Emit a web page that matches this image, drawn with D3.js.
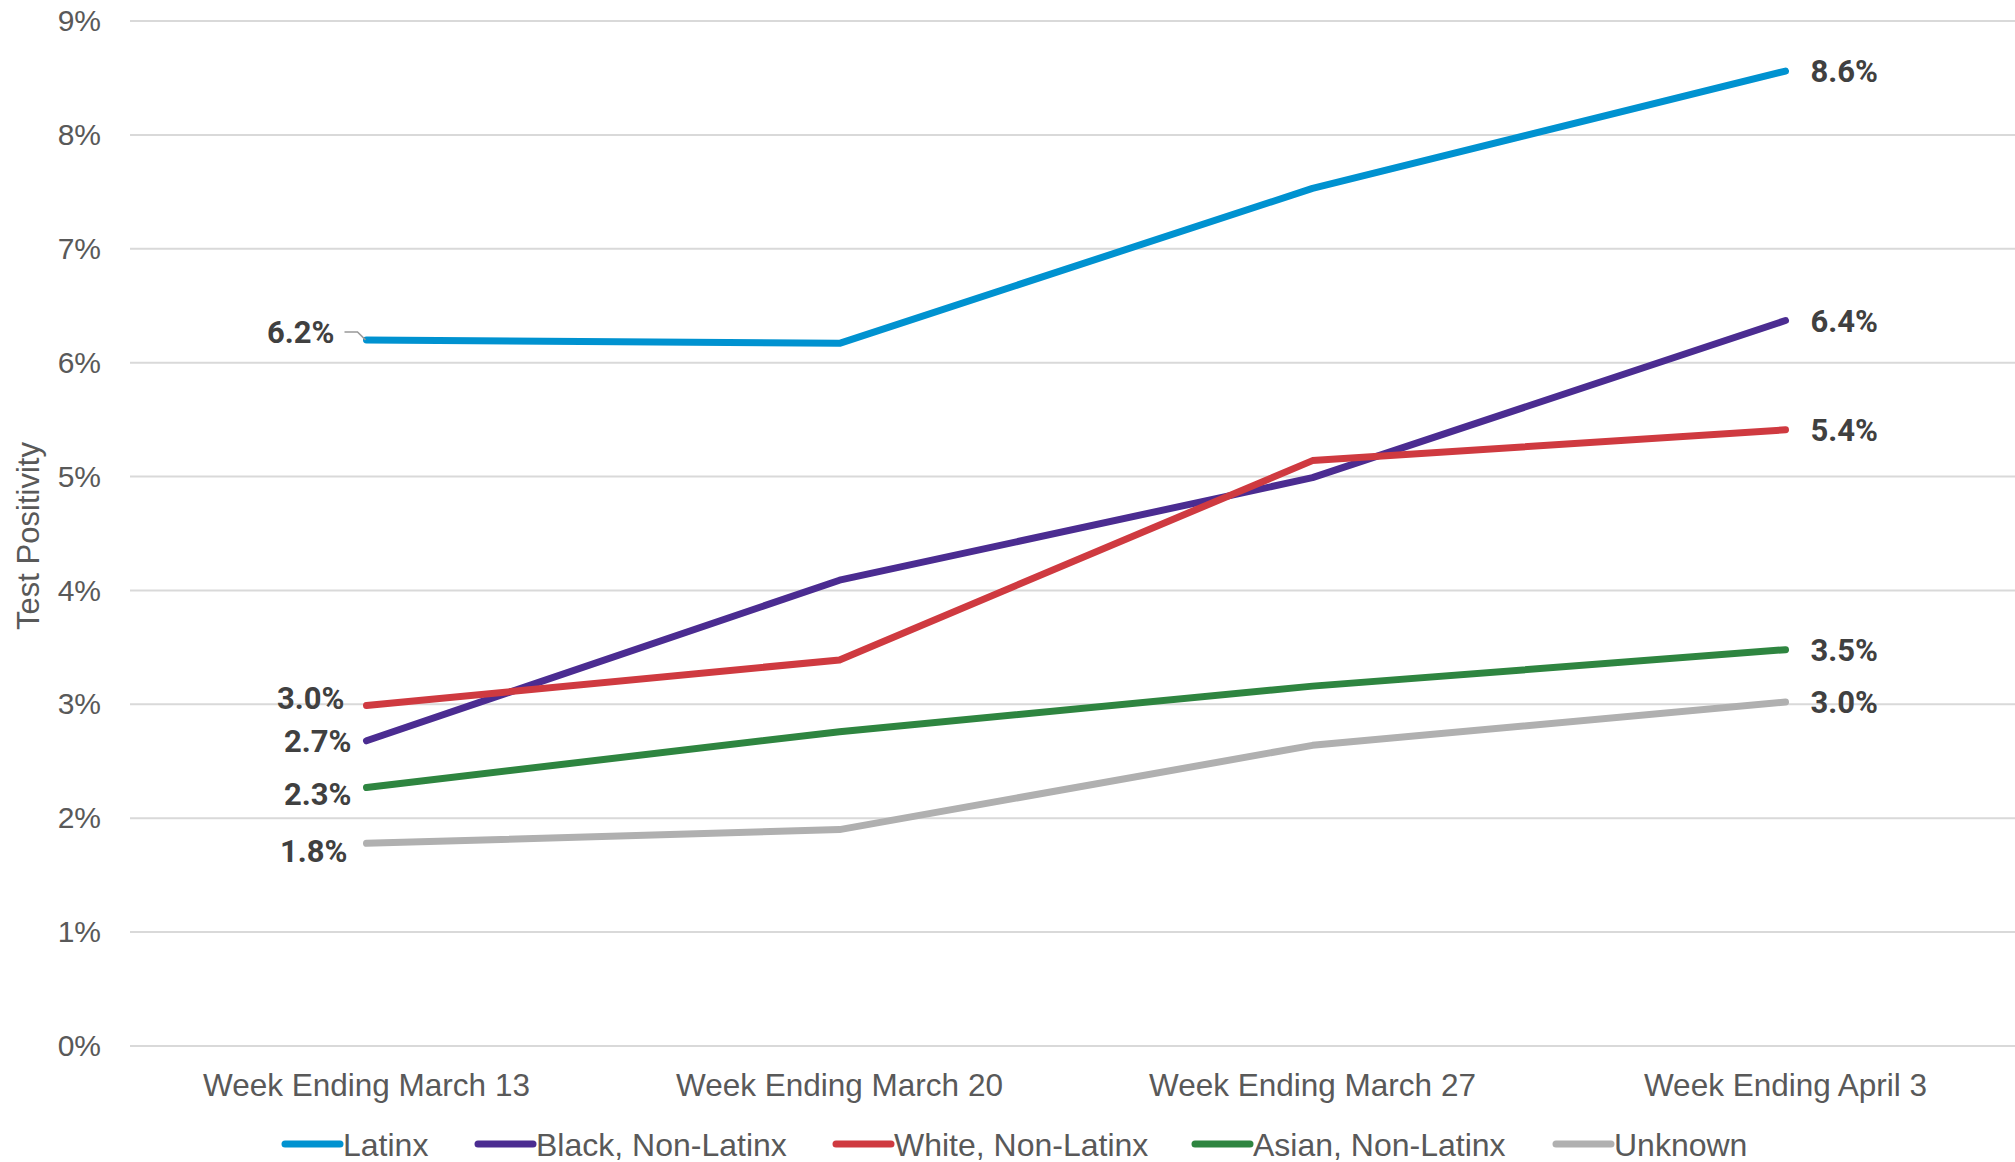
<!DOCTYPE html>
<html>
<head>
<meta charset="utf-8">
<script src="https://cdn.jsdelivr.net/npm/d3@7"></script>
<style>
  body { margin: 0; background: #fff; }
  svg { display: block; }
</style>
</head>
<body>
<svg id="chart" width="2015" height="1162"></svg>
<script>
// weeks on the x axis
var weeks = ["Week Ending March 13", "Week Ending March 20", "Week Ending March 27", "Week Ending April 3"];
var yTicks = [0, 1, 2, 3, 4, 5, 6, 7, 8, 9];

// test positivity (%) per group
var latinx  = [6.20, 6.17, 7.53, 8.56];
var black   = [2.68, 4.09, 4.99, 6.37];
var white   = [2.99, 3.39, 5.14, 5.41];
var asian   = [2.27, 2.76, 3.16, 3.48];
var unknown = [1.78, 1.90, 2.64, 3.02];

var groups = ["Latinx", "Black, Non-Latinx", "White, Non-Latinx", "Asian, Non-Latinx", "Unknown"];
var colors = ["#0092d0", "#4b2c91", "#cf3a40", "#2e8540", "#b0b0b0"];

var series = [latinx, black, white, asian, unknown].map(function(v, i) {
  return {name: groups[i], color: colors[i], values: v};
});

// label nudges for the first-week labels (layout only)
var leftNudge = [-8, 0, -8, 6, 8];
var leftShift = [32, 15, 22, 15, 19];

var svg = d3.select("#chart"),
    width = +svg.attr("width"),
    height = +svg.attr("height");

var x = d3.scaleBand()
    .domain(weeks)
    .range([130, 2022]);

var y = d3.scaleLinear()
    .domain([0, 9])
    .range([1046, 21]);

function cx(i) { return x(weeks[i]) + x.bandwidth() / 2; }

// gridlines
svg.append("g")
  .selectAll("line")
  .data(yTicks)
  .enter().append("line")
    .attr("x1", 130)
    .attr("x2", width)
    .attr("y1", function(d) { return y(d); })
    .attr("y2", function(d) { return y(d); })
    .attr("stroke", "#d9d9d9")
    .attr("stroke-width", 2);

// y axis labels
var yAxis = d3.axisLeft(y).tickValues(yTicks).tickFormat(function(d) { return d + "%"; }).tickSize(0).tickPadding(0);
var gy = svg.append("g")
    .attr("transform", "translate(101,0)")
    .call(yAxis);
gy.select(".domain").remove();
gy.selectAll("text")
    .attr("fill", "#595959")
    .style("font-family", "'Liberation Sans', Arial, sans-serif")
    .style("font-size", "30px");

// x axis labels
var xAxis = d3.axisBottom(x).tickSize(0).tickPadding(0);
var gx = svg.append("g")
    .attr("transform", "translate(0,1074)")
    .call(xAxis);
gx.select(".domain").remove();
gx.selectAll("text")
    .attr("fill", "#595959")
    .attr("dy", 0)
    .attr("y", 22)
    .style("font-family", "'Liberation Sans', Arial, sans-serif")
    .style("font-size", "31.5px");

// y axis title
svg.append("text")
    .attr("transform", "translate(39,536) rotate(-90)")
    .attr("text-anchor", "middle")
    .attr("fill", "#595959")
    .style("font-family", "'Liberation Sans', Arial, sans-serif")
    .style("font-size", "31px")
    .text("Test Positivity");

// lines
var line = d3.line()
    .x(function(d, i) { return cx(i); })
    .y(function(d) { return y(d); });

svg.append("g")
  .selectAll("path")
  .data(series)
  .enter().append("path")
    .attr("d", function(d) { return line(d.values); })
    .attr("fill", "none")
    .attr("stroke", function(d) { return d.color; })
    .attr("stroke-width", 7)
    .attr("stroke-linecap", "round")
    .attr("stroke-linejoin", "round");

var labelFont = "Roboto, 'Open Sans', sans-serif";

// first-week labels
svg.append("g")
  .selectAll("text")
  .data(series)
  .enter().append("text")
    .attr("x", function(d, i) { return cx(0) - leftShift[i]; })
    .attr("y", function(d, i) { return y(d.values[0]) + leftNudge[i]; })
    .attr("dy", "0.36em")
    .attr("text-anchor", "end")
    .attr("fill", "#404040")
    .style("font-family", labelFont)
    .style("font-weight", "bold")
    .style("font-size", "31px")
    .text(function(d) { return d.values[0].toFixed(1) + "%"; });

// leader line for the Latinx label
var lx = cx(0), ly = y(latinx[0]);
svg.append("path")
    .attr("d", "M" + (lx - 22) + "," + (ly - 8) + "H" + (lx - 9) + "L" + (lx - 1) + "," + (ly))
    .attr("fill", "none")
    .attr("stroke", "#999")
    .attr("stroke-width", 1.5);

// last-week labels
svg.append("g")
  .selectAll("text")
  .data(series)
  .enter().append("text")
    .attr("x", cx(3) + 25)
    .attr("y", function(d) { return y(d.values[3]); })
    .attr("dy", "0.36em")
    .attr("fill", "#404040")
    .style("font-family", labelFont)
    .style("font-weight", "bold")
    .style("font-size", "31px")
    .text(function(d) { return d.values[3].toFixed(1) + "%"; });

// legend
var legendX = [285, 478, 836, 1195, 1556];
var legend = svg.append("g")
  .selectAll("g")
  .data(series)
  .enter().append("g")
    .attr("transform", function(d, i) { return "translate(" + legendX[i] + ",1144)"; });

legend.append("line")
    .attr("x1", 0)
    .attr("x2", 55)
    .attr("stroke", function(d) { return d.color; })
    .attr("stroke-width", 7)
    .attr("stroke-linecap", "round");

legend.append("text")
    .attr("x", 58)
    .attr("dy", "0.36em")
    .attr("fill", "#595959")
    .style("font-family", "'Liberation Sans', Arial, sans-serif")
    .style("font-size", "32px")
    .text(function(d) { return d.name; });
</script>
</body>
</html>
